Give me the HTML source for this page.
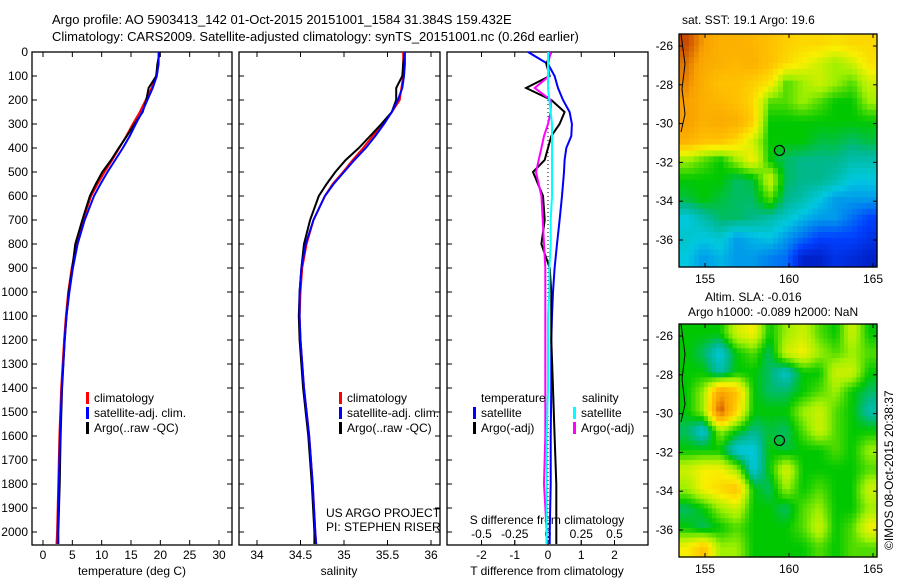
<!DOCTYPE html>
<html><head><meta charset="utf-8">
<style>
body{margin:0;background:#fff;}
svg{display:block;font-family:"Liberation Sans",sans-serif;font-size:12px;}
</style></head>
<body>
<svg id="c" width="900" height="580" xmlns="http://www.w3.org/2000/svg">
<text x="52" y="24" font-size="13">Argo profile: AO 5903413_142 01-Oct-2015 20151001_1584 31.384S 159.432E</text>
<text x="52" y="41" font-size="13">Climatology: CARS2009. Satellite-adjusted climatology: synTS_20151001.nc (0.26d earlier)</text>
<text x="682" y="24">sat. SST: 19.1 Argo: 19.6</text>
<text x="705" y="301">Altim. SLA: -0.016</text>
<text x="688" y="316">Argo h1000: -0.089 h2000: NaN</text>
<text transform="translate(893,550) rotate(-90)">©IMOS 08-Oct-2015 20:38:37</text>
<g id="g"></g>
</svg>
<script>
// ---- data ----
const depths=[0,50,100,150,200,250,300,350,400,450,500,550,600,700,800,900,1000,1100,1200,1400,1600,1800,2000,2050];
const tempClim=[19.8,19.6,19.3,18.5,17.5,16.5,15.3,14.2,13.0,11.8,10.5,9.3,8.2,6.8,5.7,4.9,4.3,3.9,3.6,3.1,2.8,2.6,2.4,2.3];
const tempSat=[19.7,19.7,19.4,18.7,17.8,16.9,15.8,14.8,13.6,12.3,11.0,9.8,8.7,7.1,5.9,5.1,4.5,4.0,3.7,3.2,2.9,2.7,2.5,2.5];
const tempArgo=[19.9,19.5,19.3,18.0,17.6,17.0,15.6,14.3,12.9,11.6,10.1,9.0,8.0,6.7,5.5,5.0,4.4,4.0,3.7,3.25,3.0,2.85,2.6,2.6];
const salClim=[35.68,35.68,35.68,35.66,35.64,35.55,35.45,35.33,35.22,35.1,34.99,34.87,34.78,34.65,34.57,34.52,34.50,34.49,34.50,34.54,34.60,34.64,34.67,34.68];
const salSat=[35.70,35.70,35.69,35.67,35.62,35.55,35.46,35.36,35.25,35.12,35.0,34.88,34.78,34.65,34.56,34.51,34.49,34.49,34.50,34.54,34.60,34.64,34.67,34.68];
const salArgo=[35.70,35.68,35.67,35.6,35.6,35.55,35.43,35.3,35.17,35.02,34.9,34.8,34.71,34.61,34.54,34.51,34.49,34.48,34.49,34.53,34.59,34.63,34.66,34.66];
const tDiffSat=[-0.6,0.0,0.2,0.3,0.45,0.65,0.72,0.7,0.55,0.5,0.48,0.45,0.42,0.35,0.27,0.2,0.15,0.12,0.1,0.1,0.08,0.08,0.05,0.05];
const tDiffArgo=[0.1,-0.05,0.05,-0.66,0.1,0.5,0.35,0.1,0.0,-0.1,-0.45,-0.3,-0.15,-0.1,-0.2,0.05,0.1,0.1,0.1,0.15,0.2,0.25,0.25,0.25];
const sDiffArgo=[0.02,0.0,0.01,-0.1,0.02,0.02,0.0,-0.03,-0.05,-0.07,-0.09,-0.07,-0.05,-0.04,-0.03,-0.02,-0.02,-0.02,-0.02,-0.02,-0.02,-0.03,-0.01,-0.01];
const sDiffSat=[0.0,0.0,0.0,0.0,0.01,0.02,0.03,0.03,0.03,0.03,0.03,0.03,0.03,0.02,0.02,0.01,0.01,0.0,0.0,0.0,-0.01,-0.01,-0.01,-0.01];
const depthTicks=[0,100,200,300,400,500,600,700,800,900,1000,1100,1200,1300,1400,1500,1600,1700,1800,1900,2000];
const tempTicks=[0,5,10,15,20,25,30];
const salTicks=[34,34.5,35,35.5,36];
const tdTicks=[-2,-1,0,1,2];
const sdTicks=[-0.5,-0.25,0,0.25,0.5];
const lonTicks=[155,160,165];
const latTicks=[-26,-28,-30,-32,-34,-36];
const sstGrid=[
[.95,.85,.8,.8,.78,.75,.72,.7,.7,.68,.7,.7],
[.9,.82,.8,.78,.8,.75,.7,.65,.6,.55,.6,.68],
[.88,.8,.75,.75,.72,.68,.5,.55,.6,.55,.5,.6],
[.85,.8,.78,.75,.7,.5,.5,.55,.5,.45,.45,.55],
[.85,.8,.82,.8,.72,.45,.45,.45,.45,.45,.45,.45],
[.8,.75,.75,.7,.6,.45,.45,.45,.42,.42,.4,.42],
[.55,.5,.45,.55,.65,.45,.4,.38,.38,.38,.35,.35],
[.45,.45,.45,.4,.42,.6,.4,.38,.38,.35,.3,.3],
[.42,.45,.42,.4,.4,.5,.38,.35,.3,.25,.25,.25],
[.3,.35,.4,.4,.38,.35,.32,.28,.25,.25,.2,.15],
[.32,.3,.32,.25,.28,.3,.25,.2,.15,.15,.15,.12],
[.3,.25,.28,.25,.25,.22,.2,.08,.08,.12,.1,.08]];
const slaGrid=[
[.45,.45,.45,.6,.65,.45,.55,.6,.5,.45,.6,.45],
[.45,.4,.3,.45,.5,.4,.6,.65,.55,.5,.55,.5],
[.45,.45,.35,.45,.45,.4,.32,.45,.45,.6,.6,.45],
[.45,.55,.85,.75,.45,.4,.4,.45,.5,.55,.45,.4],
[.45,.55,.95,.7,.45,.45,.45,.55,.6,.5,.45,.35],
[.4,.3,.55,.45,.38,.42,.4,.5,.6,.5,.45,.45],
[.45,.45,.45,.3,.3,.45,.42,.45,.45,.5,.45,.55],
[.6,.65,.65,.55,.3,.45,.62,.45,.45,.45,.45,.5],
[.55,.65,.7,.75,.45,.4,.55,.45,.5,.45,.45,.6],
[.4,.45,.55,.6,.45,.45,.4,.5,.55,.45,.45,.55],
[.45,.4,.45,.5,.45,.45,.45,.5,.6,.45,.5,.65],
[.65,.75,.55,.55,.45,.45,.45,.45,.5,.45,.5,.5]];
const argoLon=159.432, argoLat=-31.384;

// ---- drawing ----
const NS='http://www.w3.org/2000/svg', G=document.getElementById('g');
function mk(t,a,p){const e=document.createElementNS(NS,t);for(const k in a)e.setAttribute(k,a[k]);(p||G).appendChild(e);return e;}
const yD=d=>52+d*0.24;
const PT=52,PB=545;
const xT=v=>43+v*(219-43)/30;
const xS=v=>257+(v-34)*(431-257)/2;
const xTD=v=>548+v*(614-481)/4;
const xSD=v=>548+v*(614-481)/1;

// maps first (background)
const stops=[[0,[0,0,143]],[.15,[0,64,255]],[.3,[0,200,224]],[.38,[0,184,140]],[.45,[0,200,0]],[.55,[160,240,0]],[.65,[248,240,0]],[.75,[255,192,0]],[.85,[248,160,0]],[1,[176,32,0]]];
function cmap(v){v=Math.max(0,Math.min(1,v));for(let i=1;i<stops.length;i++){if(v<=stops[i][0]){const a=stops[i-1],b=stops[i],f=(v-a[0])/(b[0]-a[0]);
  return 'rgb('+a[1].map((c,k)=>Math.round(c+f*(b[1][k]-c))).join(',')+')';}}return 'rgb(176,32,0)';}
function sample(grid,gx,gy){const n=grid.length,m=grid[0].length;
  gx=Math.max(0,Math.min(m-1,gx));gy=Math.max(0,Math.min(n-1,gy));
  const x0=Math.floor(gx),y0=Math.floor(gy),x1=Math.min(m-1,x0+1),y1=Math.min(n-1,y0+1),fx=gx-x0,fy=gy-y0;
  return grid[y0][x0]*(1-fx)*(1-fy)+grid[y0][x1]*fx*(1-fy)+grid[y1][x0]*(1-fx)*fy+grid[y1][x1]*fx*fy;}
function map(grid,top,name,N){
  const X0=679,X1=877,Y0=top,Y1=top+233;
  const lonX=l=>705+(l-155)*16.8, latY=l=>Y0+12+(-26-l)*19.4;
  const cw=(X1-X0)/N,ch=(Y1-Y0)/N;
  for(let r=0;r<N;r++)for(let c=0;c<N;c++){
    const v=sample(grid,(c+0.5)/N*12-0.5,(r+0.5)/N*12-0.5);
    const e=mk('rect',{x:(X0+c*cw).toFixed(2),y:(Y0+r*ch).toFixed(2),width:(cw+0.6).toFixed(2),height:(ch+0.6).toFixed(2),fill:cmap(v)});
    
    }
  const f=mk('rect',{x:X0,y:Y0,width:X1-X0,height:Y1-Y0,fill:'none',stroke:'#000','stroke-width':1.3});
  
  const coast=mk('polyline',{points:`${X0+2},${Y0} ${X0+6},${Y0+30} ${X0+3},${Y0+55} ${X0+6},${Y0+80} ${X0+2},${Y0+98}`,fill:'none',stroke:'#000'});
  
  const m=mk('circle',{cx:lonX(argoLon),cy:latY(argoLat),r:5,fill:'none',stroke:'#000','stroke-width':1.2});
  
  lonTicks.forEach(l=>{mk('line',{x1:lonX(l),x2:lonX(l),y1:Y1,y2:Y1-4,stroke:'#000'});mk('line',{x1:lonX(l),x2:lonX(l),y1:Y0,y2:Y0+4,stroke:'#000'});
    const t=mk('text',{x:lonX(l),y:Y1+16,'text-anchor':'middle'});t.textContent=l;
    });
  latTicks.forEach(l=>{mk('line',{x1:X0,x2:X0+4,y1:latY(l),y2:latY(l),stroke:'#000'});mk('line',{x1:X1-4,x2:X1,y1:latY(l),y2:latY(l),stroke:'#000'});
    const t=mk('text',{x:X0-6,y:latY(l)+4,'text-anchor':'end'});t.textContent=l;
    });
}
map(sstGrid,34,'sst-map',40);
map(slaGrid,324,'sla-map',48);

const panels=[[32,232],[239,440],[447,648]];
panels.forEach((p,i)=>{
  const r=mk('rect',{x:p[0],y:PT,width:p[1]-p[0],height:PB-PT,fill:'none',stroke:'#000','stroke-width':1.3});
  
  
  depthTicks.forEach(d=>{
    mk('line',{x1:p[0],x2:p[0]+5,y1:yD(d),y2:yD(d),stroke:'#000'});
    mk('line',{x1:p[1]-5,x2:p[1],y1:yD(d),y2:yD(d),stroke:'#000'});
  });
});
depthTicks.forEach(d=>{const t=mk('text',{x:28,y:yD(d)+4,'text-anchor':'end'});t.textContent=d;
  
  });
function xaxis(ticks,fx,y){ticks.forEach(v=>{
  mk('line',{x1:fx(v),x2:fx(v),y1:PB,y2:PB-5,stroke:'#000'});
  mk('line',{x1:fx(v),x2:fx(v),y1:PT,y2:PT+5,stroke:'#000'});
  const t=mk('text',{x:fx(v),y:y,'text-anchor':'middle'});t.textContent=v;
  
  });}
xaxis(tempTicks,xT,559);
xaxis(salTicks,xS,559);
xaxis(tdTicks,xTD,559);
sdTicks.forEach(v=>{mk('line',{x1:xSD(v),x2:xSD(v),y1:PB,y2:PB-5,stroke:'#000'});
  const t=mk('text',{x:xSD(v),y:538,'text-anchor':'middle'});t.textContent=v;
  
  });
[['temperature (deg C)',132,575],['salinity',339,575],['T difference from climatology',547,575],['S difference from climatology',547,524]].forEach(a=>{
  const t=mk('text',{x:a[1],y:a[2],'text-anchor':'middle'});t.textContent=a[0];
  
  });
const c1=mk('text',{x:326,y:517});c1.textContent='US ARGO PROJECT';

const c2=mk('text',{x:326,y:531});c2.textContent='PI: STEPHEN RISER';


function line(vals,fx,col,name,w){const pts=vals.map((v,i)=>fx(v).toFixed(1)+','+yD(depths[i]).toFixed(1)).join(' ');
  const l=mk('polyline',{points:pts,fill:'none',stroke:col,'stroke-width':w||2});
  
  }
const z=mk('line',{x1:548,x2:548,y1:PT,y2:PB,stroke:'#000','stroke-dasharray':'1 3'});

line(tempClim,xT,'#f00','temp-climatology-line');
line(tempArgo,xT,'#000','temp-argo-line');
line(tempSat,xT,'#00f','temp-satellite-line');
line(salClim,xS,'#f00','sal-climatology-line');
line(salArgo,xS,'#000','sal-argo-line');
line(salSat,xS,'#00f','sal-satellite-line');
line(tDiffSat,xTD,'#00f','t-diff-satellite-line');
line(tDiffArgo,xTD,'#000','t-diff-argo-line');
line(sDiffArgo,xSD,'#f0f','s-diff-argo-line');
line(sDiffSat,xSD,'#0ff','s-diff-satellite-line');

function legend(x,y,col,txt){const b=mk('rect',{x:x,y:y-10,width:3,height:12,fill:col});
  
  const t=mk('text',{x:x+8,y:y});t.textContent=txt;
  }
['climatology','satellite-adj. clim.','Argo(..raw -QC)'].forEach((s,i)=>legend(86,402+i*15,['#f00','#00f','#000'][i],s));
['climatology','satellite-adj. clim.','Argo(..raw -QC)'].forEach((s,i)=>legend(339,402+i*15,['#f00','#00f','#000'][i],s));
const lt=mk('text',{x:481,y:402});lt.textContent='temperature';
const ls=mk('text',{x:582,y:402});ls.textContent='salinity';
legend(473,417,'#00f','satellite');legend(473,432,'#000','Argo(-adj)');
legend(573,417,'#0ff','satellite');legend(573,432,'#f0f','Argo(-adj)');
</script>
</body></html>
